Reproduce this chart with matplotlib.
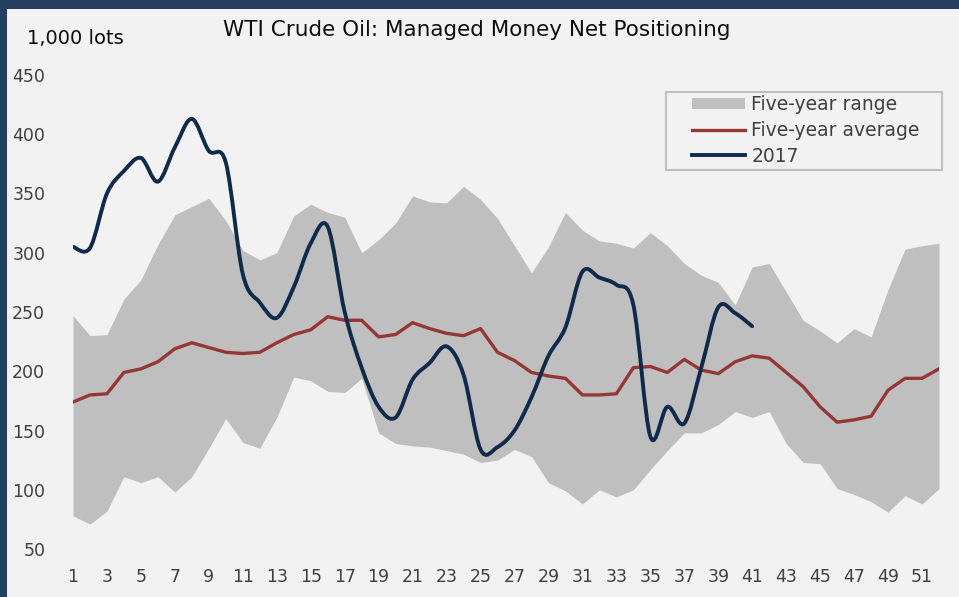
import numpy as np
import matplotlib
matplotlib.use('Agg')
import matplotlib.pyplot as plt
from matplotlib.path import Path
from matplotlib.patches import PathPatch, Rectangle, Patch
from matplotlib.lines import Line2D

plt.rcParams['font.family'] = ['DejaVu Sans']

weeks = np.arange(1, 53)

range_high = [247, 230, 231, 261, 277, 307, 332, 339, 346, 327, 302, 294, 300, 331,
              341, 334, 330, 300, 311, 325, 348, 343, 342, 356, 345, 329, 306, 283,
              305, 334, 319, 310, 308, 304, 317, 306, 291, 281, 275, 256, 288, 291,
              267, 243, 234, 224, 236, 229, 269, 303, 306, 308]
range_low = [78, 71, 82, 111, 106, 111, 98, 111, 135, 160, 140, 135, 161, 195,
             192, 183, 182, 194, 148, 139, 137, 136, 133, 130, 123, 125, 134, 128,
             106, 99, 88, 100, 94, 100, 117, 133, 148, 148, 155, 166, 161, 166,
             139, 123, 122, 101, 96, 90, 81, 95, 88, 101]
avg_5y = [174, 180, 181, 199, 202, 208, 219, 224, 220, 216, 215, 216, 224, 231,
          235, 246, 243, 243, 229, 231, 241, 236, 232, 230, 236, 216, 209, 199,
          196, 194, 180, 180, 181, 203, 204, 199, 210, 201, 198, 208, 213, 211,
          199, 187, 170, 157, 159, 162, 184, 194, 194, 202]

weeks_2017 = np.arange(1, 42)
net_2017 = [305, 304, 350, 369, 380, 360, 389, 413, 386, 376, 282, 258, 245, 271,
            308, 322, 250, 203, 170, 161, 193, 207, 221, 197, 134, 136, 150, 178,
            213, 237, 284, 279, 273, 256, 145, 170, 156, 203, 254, 249, 238]

yticks = [50, 100, 150, 200, 250, 300, 350, 400, 450]
xticks = list(range(1, 53, 2))

bg = '#F2F2F2'
fig = plt.figure(figsize=(9.59, 5.97), dpi=100, facecolor=bg)
ax = fig.add_axes([73 / 959, 48 / 597, 866 / 959, 474 / 597])
ax.set_facecolor(bg)

ax.fill_between(weeks, range_low, range_high, color='#BFBFBF', linewidth=0, zorder=1)
ax.plot(weeks, avg_5y, color='#953735', linewidth=2.4, zorder=2)


def smooth_path(x, y):
    # Excel-style smoothed line: Catmull-Rom through the points as cubic Beziers
    pts = np.column_stack([x, y]).astype(float)
    n = len(pts)
    verts = [pts[0]]
    codes = [Path.MOVETO]
    for i in range(n - 1):
        p0 = pts[max(i - 1, 0)]
        p1 = pts[i]
        p2 = pts[i + 1]
        p3 = pts[min(i + 2, n - 1)]
        c1 = p1 + (p2 - p0) / 6.0
        c2 = p2 - (p3 - p1) / 6.0
        verts += [c1, c2, p2]
        codes += [Path.CURVE4] * 3
    return Path(verts, codes)


ax.add_patch(PathPatch(smooth_path(weeks_2017, net_2017), facecolor='none',
                       edgecolor='#0F2A4A', linewidth=2.8, capstyle='round',
                       joinstyle='round', zorder=3))

ax.set_xlim(1, 52)
ax.set_ylim(50, 450)
ax.set_yticks(yticks)
ax.set_xticks(xticks)
ax.tick_params(axis='both', length=0, labelsize=12.5, colors='#404040')
ax.tick_params(axis='y', pad=20)
ax.tick_params(axis='x', pad=14)
for s in ax.spines.values():
    s.set_visible(False)

fig.text(0.497, 1 - 30 / 597, 'WTI Crude Oil: Managed Money Net Positioning',
         ha='center', va='center', fontsize=15.5, color='#0D0D0D')
fig.text(27 / 959, 1 - 38 / 597, '1,000 lots', ha='left', va='center',
         fontsize=14, color='#0D0D0D')

# legend: entries without frame, box drawn separately (wider side padding)
handles = [Patch(facecolor='#BFBFBF', edgecolor='none'),
           Line2D([], [], color='#953735', linewidth=2.4),
           Line2D([], [], color='#0F2A4A', linewidth=2.8)]
leg = ax.legend(handles, ['Five-year range', 'Five-year average', '2017'],
                loc='upper left', bbox_to_anchor=(0.7148, 0.957), borderaxespad=0,
                fontsize=13.5, frameon=False, handlelength=2.8,
                handleheight=0.55, labelspacing=0.35, borderpad=0,
                handletextpad=0.37, labelcolor='#404040')
leg.set_zorder(6)
ax.add_patch(Rectangle((0.6848, 0.7996), 0.3187, 0.1645, transform=ax.transAxes,
                       facecolor=bg, edgecolor='#BFBFBF', linewidth=1.5,
                       clip_on=False, zorder=5))

# dark frame strips along the top and left edges
fig.patches.append(Rectangle((0, 1 - 9 / 597), 1, 9 / 597, transform=fig.transFigure,
                             facecolor='#243F60', edgecolor='none', zorder=10))
fig.patches.append(Rectangle((0, 0), 7 / 959, 1, transform=fig.transFigure,
                             facecolor='#243F60', edgecolor='none', zorder=10))

plt.savefig('out.png', dpi=100, facecolor=bg)
